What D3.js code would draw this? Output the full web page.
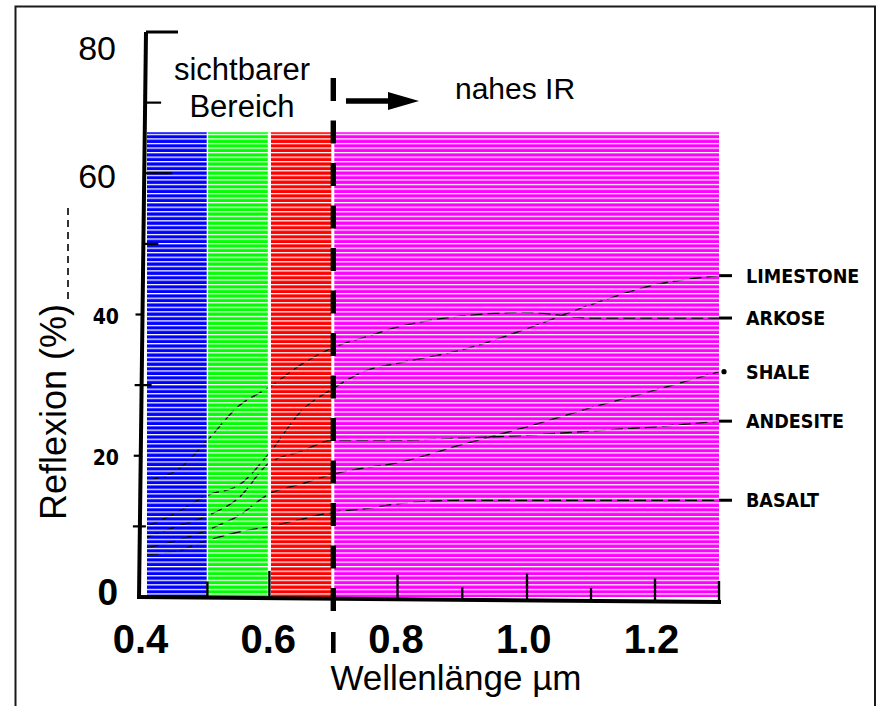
<!DOCTYPE html>
<html><head><meta charset="utf-8">
<script src="https://cdn.jsdelivr.net/npm/d3@7"></script>
<style>
html,body{margin:0;padding:0;background:#fff;}
svg{display:block;}
</style></head>
<body>
<svg id="c" width="877" height="706"></svg>
<script>
// ---------- data ----------
const wavelengths = [0.4, 0.45, 0.5, 0.55, 0.6, 0.65, 0.7, 0.75, 0.8, 0.9, 1.0, 1.1, 1.2, 1.3];
const limestone = [10.0, 12.0, 14.4, 15.8, 20.4, 26.3, 29.5, 32.0, 33.1, 35.0, 38.0, 41.4, 44.2, 45.5];
const arkose    = [16.5, 18.0, 22.2, 27.0, 29.7, 32.9, 35.3, 36.8, 38.2, 39.8, 40.3, 39.5, 39.5, 39.5];
const shale     = [7.0, 8.0, 9.5, 11.5, 14.6, 16.0, 17.4, 18.3, 19.0, 21.6, 24.1, 26.8, 29.3, 31.9];
const andesite  = [8.5, 10.0, 11.5, 14.0, 19.0, 20.6, 22.2, 22.2, 22.2, 22.5, 22.9, 23.5, 24.1, 24.9];
const basalt    = [6.0, 6.5, 8.0, 9.2, 10.0, 11.0, 12.0, 12.5, 13.2, 13.7, 13.7, 13.7, 13.7, 13.7];
const seriesNames = ["LIMESTONE", "ARKOSE", "SHALE", "ANDESITE", "BASALT"];
const bandStart = [0.4, 0.5, 0.6, 0.7];
const bandEnd   = [0.5, 0.6, 0.7, 1.3];
const bandColors = ["#0000ff", "#00ff00", "#ff0000", "#ff00ff"];
const bandTop = 65.8;
const xTickLabels = [0.4, 0.6, 0.8, 1.0, 1.2];
const xTickMarks = [0.5, 0.6, 0.8, 0.9, 1.0, 1.1, 1.2, 1.3];
const yTicks = [0, 10, 20, 30, 40, 50, 60, 70, 80];
const yLabelValues = [0, 20, 40, 60, 80];
const visibleLabel = ["sichtbarer", "Bereich"];
const irLabel = "nahes IR";
const xTitle = "Wellenlänge µm";
const yTitle = "Reflexion (%)";

const series = [limestone, arkose, shale, andesite, basalt];

// ---------- scales ----------
const x = d3.scaleLinear().domain([0.4, 0.5, 0.6, 0.7, 1.0, 1.3]).range([147, 207.4, 269.4, 332.8, 527, 719]);
const xl = d3.scaleLinear().domain([0.4, 1.2]).range([140, 651]);
const y = d3.scaleLinear().domain([0, 80]).range([597, 32]);

const svg = d3.select("#c");
const defs = svg.append("defs");
defs.append("pattern").attr("id", "stripes").attr("patternUnits", "userSpaceOnUse")
  .attr("width", 20).attr("height", 4.55).attr("y", 133.8)
  .append("rect").attr("width", 20).attr("height", 1.25).attr("fill", "#fff");

// frame
svg.append("rect").attr("x", 15.5).attr("y", 6.5).attr("width", 859.5).attr("height", 720)
  .attr("fill", "none").attr("stroke", "#1a1a1a").attr("stroke-width", 2);

// bands
svg.append("g").selectAll("rect").data(bandStart).join("rect")
  .attr("x", (d) => x(d)).attr("y", y(bandTop))
  .attr("width", (d, i) => x(bandEnd[i]) - x(d)).attr("height", y(0) - y(bandTop))
  .attr("fill", (d, i) => bandColors[i]);

// curves
const line = d3.line().x((d) => x(d[0])).y((d) => y(d[1])).curve(d3.curveMonotoneX);
svg.append("g").selectAll("path").data(series).join("path")
  .attr("d", (s) => line(wavelengths.map((w, i) => [w, s[i]])))
  .attr("fill", "none").attr("stroke", "#000").attr("stroke-width", 1.3)
  .attr("stroke-dasharray", "12,5");

// white stripes over bands and curves
svg.append("rect").attr("x", x(0.4)).attr("y", y(bandTop))
  .attr("width", x(1.3) - x(0.4)).attr("height", y(0) - y(bandTop))
  .attr("fill", "url(#stripes)");

// white separators between bands
const sepW = [1.4, 3.2, 3];
svg.append("g").selectAll("rect").data(bandStart.slice(1)).join("rect")
  .attr("x", (d, i) => x(d) - sepW[i] / 2).attr("y", y(bandTop))
  .attr("width", (d, i) => sepW[i]).attr("height", y(0) - y(bandTop)).attr("fill", "#fff");

// dashed boundary at 0.7
svg.append("line").attr("x1", x(0.7) + 0.5).attr("x2", x(0.7) + 0.5).attr("y1", 78).attr("y2", 612)
  .attr("stroke", "#000").attr("stroke-width", 5.4).attr("stroke-dasharray", "23,19.5");
svg.append("rect").attr("x", x(0.7) - 1.8).attr("y", 632).attr("width", 4.6).attr("height", 21).attr("fill", "#000");

// arrow
svg.append("line").attr("x1", 346).attr("x2", 392).attr("y1", 101).attr("y2", 101)
  .attr("stroke", "#000").attr("stroke-width", 5.5);
svg.append("path").attr("d", "M388,92 L419,101 L388,110 Z").attr("fill", "#000");

// y axis
svg.append("path").attr("d", `M146,${y(80)} L139,${y(0) + 1}`).attr("stroke", "#000").attr("stroke-width", 4).attr("fill", "none");
const tickRight = { 0: 0, 10: 6, 20: 0, 30: 10, 40: 0, 50: 15, 60: 28, 70: 16, 80: 32 };
const tickLeft = { 0: 0, 10: 7, 20: 7, 30: 7, 40: 7, 50: 0, 60: 0, 70: 0, 80: 0 };
const axisXAt = (v) => 139 + (146 - 139) * (v / 80);
svg.append("g").selectAll("line").data(yTicks).join("line")
  .attr("x1", (d) => axisXAt(d) - tickLeft[d]).attr("x2", (d) => axisXAt(d) + tickRight[d])
  .attr("y1", (d) => y(d)).attr("y2", (d) => y(d))
  .attr("stroke", "#000").attr("stroke-width", (d) => d === 80 ? 3 : 2.2);

// y labels
const yLabelStyle = {
  80: { size: 34, weight: "normal", fam: "Liberation Sans, Arial, sans-serif", dy: 28, xr: 116 },
  60: { size: 34, weight: "normal", fam: "Liberation Sans, Arial, sans-serif", dy: 15, xr: 116 },
  40: { size: 21, weight: "bold", fam: "'Liberation Sans Narrow', 'DejaVu Sans Condensed', sans-serif", dy: 9, xr: 119 },
  20: { size: 21, weight: "bold", fam: "'Liberation Sans Narrow', 'DejaVu Sans Condensed', sans-serif", dy: 9, xr: 119 },
  0: { size: 37, weight: "bold", fam: "Liberation Sans, Arial, sans-serif", dy: 8, xr: 118 }
};
svg.append("g").selectAll("text").data(yLabelValues).join("text")
  .attr("x", (d) => yLabelStyle[d].xr).attr("y", (d) => y(d) + yLabelStyle[d].dy)
  .attr("text-anchor", "end").attr("font-family", (d) => yLabelStyle[d].fam)
  .attr("font-size", (d) => yLabelStyle[d].size).attr("font-weight", (d) => yLabelStyle[d].weight)
  .attr("fill", "#000").text((d) => d);

// x axis
svg.append("path").attr("d", "M137,597 L721,602").attr("stroke", "#000").attr("stroke-width", 4).attr("fill", "none");
const tickLen = { 0.5: 17, 0.6: 28, 0.8: 25, 0.9: 13, 1: 27, 1.1: 13, 1.2: 23, 1.3: 21 };
svg.append("g").selectAll("line").data(xTickMarks).join("line")
  .attr("x1", (d) => x(d)).attr("x2", (d) => x(d))
  .attr("y1", (d) => 598 + (x(d) - 137) / 584 * 4).attr("y2", (d) => 598 + (x(d) - 137) / 584 * 4 - tickLen[d])
  .attr("stroke", "#000").attr("stroke-width", 2.4);

const xAxis = d3.axisBottom(xl).tickValues(xTickLabels).tickSize(0).tickPadding(0).tickFormat(d3.format(".1f"));
const gx = svg.append("g").attr("transform", "translate(0,653)").call(xAxis);
gx.select(".domain").remove();
gx.selectAll("text").attr("font-family", "Liberation Sans, Arial, sans-serif").attr("font-size", 40)
  .attr("font-weight", "bold").attr("fill", "#000").attr("dy", 0).attr("y", 0);

// titles
svg.append("text").attr("x", 456).attr("y", 690).attr("text-anchor", "middle")
  .attr("font-family", "Liberation Sans, Arial, sans-serif").attr("font-size", 35).attr("fill", "#000").text(xTitle);
svg.append("text").attr("transform", "translate(66,412) rotate(-90)").attr("text-anchor", "middle")
  .attr("font-family", "Liberation Sans, Arial, sans-serif").attr("font-size", 36).attr("fill", "#000").text(yTitle);
svg.append("line").attr("x1", 68).attr("x2", 68).attr("y1", 208).attr("y2", 300)
  .attr("stroke", "#000").attr("stroke-width", 1.6).attr("stroke-dasharray", "7,5");

svg.append("g").selectAll("text").data(visibleLabel).join("text")
  .attr("x", 242).attr("y", (d, i) => 80 + i * 37).attr("text-anchor", "middle")
  .attr("font-family", "Liberation Sans, Arial, sans-serif").attr("font-size", 31).attr("fill", "#000").text((d) => d);
svg.append("text").attr("x", 455).attr("y", 99)
  .attr("font-family", "Liberation Sans, Arial, sans-serif").attr("font-size", 30).attr("fill", "#000").text(irLabel);

// series labels with leaders
const last = wavelengths.length - 1;
const lg = svg.append("g");
series.forEach((s, i) => {
  const yy = y(s[last]);
  if (seriesNames[i] === "SHALE") {
    lg.append("circle").attr("cx", x(1.3) + 5).attr("cy", yy).attr("r", 2.6).attr("fill", "#000");
  } else {
    lg.append("line").attr("x1", x(1.3)).attr("x2", x(1.3) + 13).attr("y1", yy).attr("y2", yy)
      .attr("stroke", "#000").attr("stroke-width", 3);
  }
  lg.append("text").attr("x", 746).attr("y", yy).attr("dy", "0.36em")
    .attr("font-family", "'Liberation Sans Narrow', 'DejaVu Sans Condensed', sans-serif")
    .attr("font-size", 19.5).attr("font-weight", "bold")
    .attr("fill", "#000").text(seriesNames[i]);
});
</script>
</body></html>
